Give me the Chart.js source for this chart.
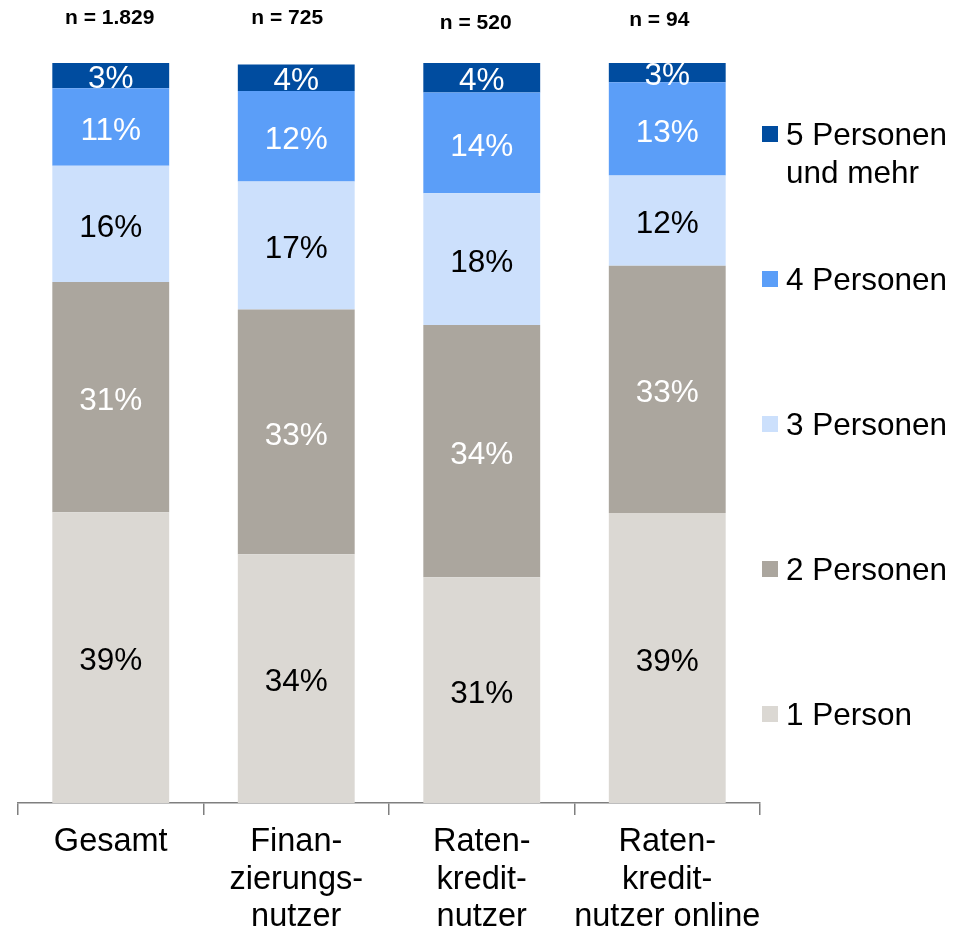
<!DOCTYPE html>
<html lang="de">
<head>
    <meta charset="UTF-8">
    <title>Haushaltsgröße</title>
    <script src="https://cdn.jsdelivr.net/npm/chart.js"></script>
    <style>
        body { margin: 0; background: #fff; }
    </style>
</head>
<body>
    <canvas id="chart" width="955" height="933"></canvas>

    <script>
        // categories and sample sizes
        const categories = [
            ['Gesamt'],
            ['Finan-', 'zierungs-', 'nutzer'],
            ['Raten-', 'kredit-', 'nutzer'],
            ['Raten-', 'kredit-', 'nutzer online']
        ];
        const sampleSizes = ['n = 1.829', 'n = 725', 'n = 520', 'n = 94'];

        // shares in percent
        const person1 = [39.3, 33.6, 30.5, 39.2];
        const person2 = [31.1, 33.1, 34.1, 33.4];
        const person3 = [15.7, 17.3, 17.8, 12.2];
        const person4 = [10.5, 12.2, 13.6, 12.6];
        const person5 = [3.4, 3.6, 4.0, 2.6];

        const seriesNames = [['1 Person'], ['2 Personen'], ['3 Personen'], ['4 Personen'], ['5 Personen', 'und mehr']];

        const FONT = '"Liberation Sans", Arial, sans-serif';

        const datasets = [
            { label: '1 Person', data: person1, backgroundColor: '#dbd8d3', labelColor: '#000' },
            { label: '2 Personen', data: person2, backgroundColor: '#aba69e', labelColor: '#fff' },
            { label: '3 Personen', data: person3, backgroundColor: '#cce0fc', labelColor: '#000' },
            { label: '4 Personen', data: person4, backgroundColor: '#5b9ef8', labelColor: '#fff' },
            { label: '5 Personen und mehr', data: person5, backgroundColor: '#004c9f', labelColor: '#fff' }
        ];

        // percentage labels inside the segments
        const segmentLabels = {
            id: 'segmentLabels',
            afterDatasetsDraw(chart) {
                const ctx = chart.ctx;
                ctx.save();
                ctx.font = '31.5px ' + FONT;
                ctx.textAlign = 'center';
                ctx.textBaseline = 'middle';
                chart.data.datasets.forEach((ds, i) => {
                    const meta = chart.getDatasetMeta(i);
                    meta.data.forEach((bar, j) => {
                        ctx.fillStyle = ds.labelColor;
                        ctx.fillText(Math.round(ds.data[j]) + '%', bar.x, (bar.y + bar.base) / 2 + 4);
                    });
                });
                ctx.restore();
            }
        };

        // n = ... above the bars
        const sampleLabels = {
            id: 'sampleLabels',
            afterDraw(chart) {
                const ctx = chart.ctx;
                const xs = chart.scales.x;
                const shift = [{ dx: -1, y: 18 }, { dx: -9, y: 18 }, { dx: -6, y: 23 }, { dx: -8, y: 20 }];
                ctx.save();
                ctx.font = 'bold 21px ' + FONT;
                ctx.fillStyle = '#000';
                ctx.textAlign = 'center';
                ctx.textBaseline = 'middle';
                sampleSizes.forEach((t, i) => {
                    ctx.fillText(t, xs.getPixelForValue(i) + shift[i].dx, shift[i].y);
                });
                ctx.restore();
            }
        };

        // legend on the right, top series first
        const sideLegend = {
            id: 'sideLegend',
            afterDraw(chart) {
                const ctx = chart.ctx;
                const rows = [134, 279, 424, 569, 714];
                ctx.save();
                ctx.font = '31.5px ' + FONT;
                ctx.textBaseline = 'middle';
                ctx.textAlign = 'left';
                for (let k = 0; k < 5; k++) {
                    const idx = 4 - k;
                    const y = rows[k];
                    ctx.fillStyle = chart.data.datasets[idx].backgroundColor;
                    ctx.fillRect(762, y - 8, 16, 16);
                    ctx.fillStyle = '#000';
                    seriesNames[idx].forEach((line, l) => {
                        ctx.fillText(line, 786, y + 2 + l * 38);
                    });
                }
                ctx.restore();
            }
        };

        new Chart(document.getElementById('chart'), {
            type: 'bar',
            data: { labels: categories, datasets: datasets },
            options: {
                responsive: false,
                animation: false,
                layout: { padding: { left: 18, right: 195, top: 63, bottom: 0 } },
                plugins: {
                    legend: { display: false },
                    tooltip: { enabled: false }
                },
                datasets: {
                    bar: { categoryPercentage: 1, barPercentage: 0.63, borderWidth: 0 }
                },
                scales: {
                    x: {
                        stacked: true,
                        afterFit: (scale) => { scale.height = 130; },
                        border: { display: true, color: '#7f7f7f', width: 1.5 },
                        grid: {
                            offset: true,
                            drawOnChartArea: false,
                            drawTicks: true,
                            tickLength: 12,
                            color: '#7f7f7f',
                            lineWidth: 1.5
                        },
                        ticks: {
                            color: '#000',
                            padding: 8,
                            maxRotation: 0,
                            autoSkip: false,
                            font: { family: FONT, size: 32.5, lineHeight: 1.16 }
                        }
                    },
                    y: {
                        stacked: true,
                        display: false,
                        min: 0,
                        max: 100
                    }
                }
            },
            plugins: [segmentLabels, sampleLabels, sideLegend]
        });
    </script>
</body>
</html>
